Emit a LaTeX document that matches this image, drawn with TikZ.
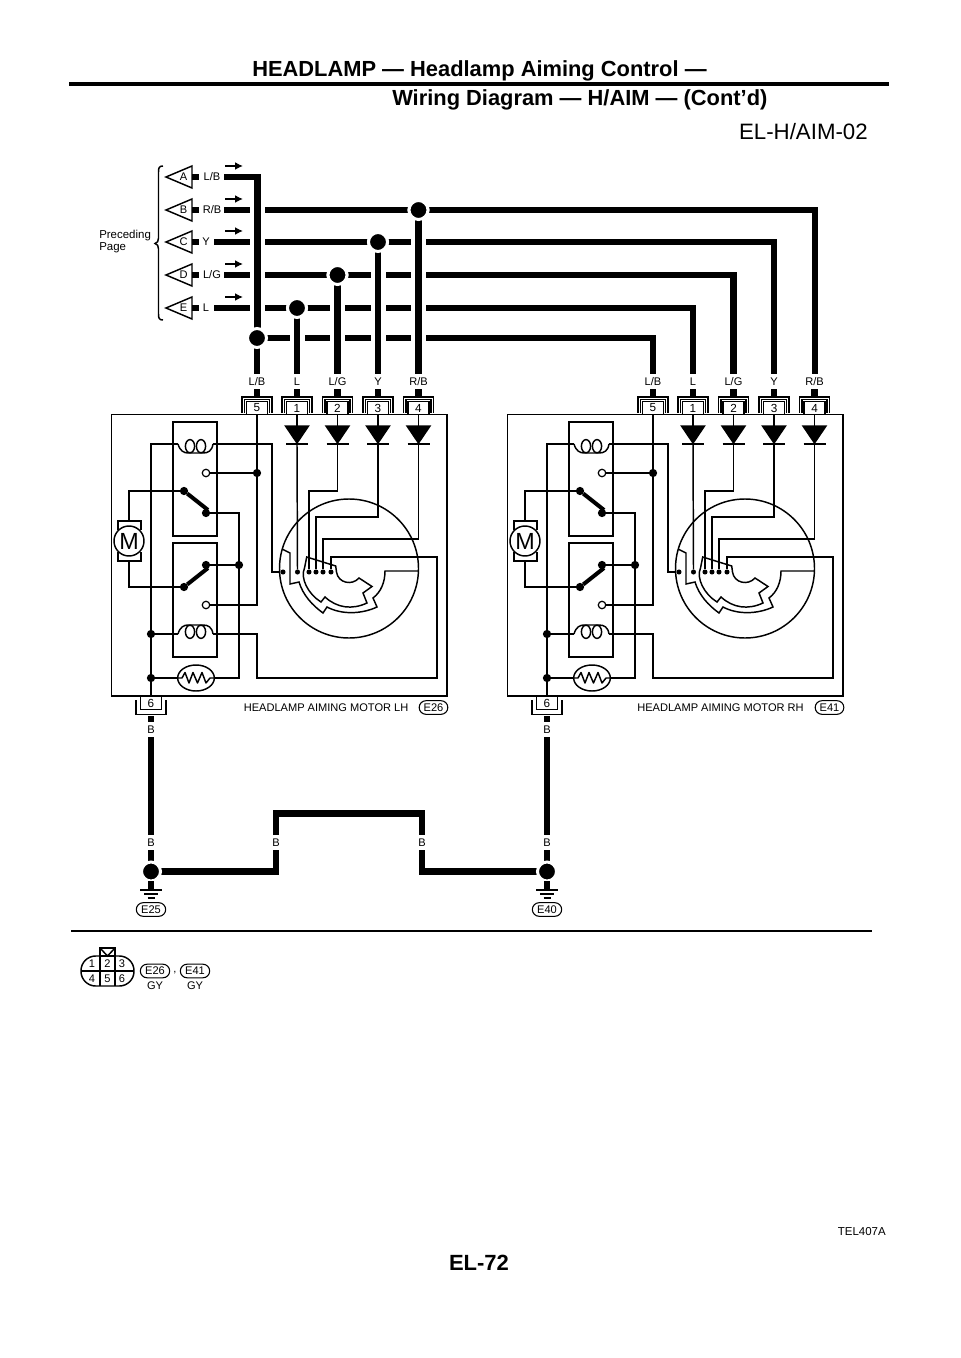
\documentclass[tikz,border=0pt]{standalone}
\usepackage{fontspec}
\setmainfont{Liberation Sans}
\usetikzlibrary{arrows.meta,shapes.misc,shapes.geometric}
\tikzset{
  thinw/.style={line width=1.1pt,line join=miter},
  hair/.style={line width=0.8pt},
  heavy/.style={line width=5pt,line join=miter},
  halo/.style={line width=11.25pt,white},
  bigdot/.style={circle,fill=black,draw=white,line width=2.25pt,minimum size=14.25pt,inner sep=0pt,outer sep=0pt},
  jdot/.style={circle,fill=black,minimum size=6.2pt,inner sep=0pt,outer sep=0pt},
  sdot/.style={circle,fill=black,minimum size=3.8pt,inner sep=0pt,outer sep=0pt},
  odot/.style={circle,draw,fill=white,line width=0.9pt,minimum size=5.6pt,inner sep=0pt,outer sep=0pt},
  lbl/.style={inner sep=0pt,font=\fontsize{8.3}{9}\selectfont},
  pinbox/.style={draw,line width=0.9pt,fill=white,minimum width=15.75pt,minimum height=9.6pt,inner sep=0pt,outer sep=0pt,font=\fontsize{8.8}{9}\selectfont},
  pill/.style={rounded rectangle,draw,line width=0.8pt,minimum width=22pt,minimum height=10.2pt,inner sep=0pt,font=\fontsize{8.3}{9}\selectfont}
}
\newcommand{\RowTag}[4]{% letter, y, label, label x
  \draw[thinw] (166,#2) -- (192,#2-11) -- (192,#2+11) -- cycle;
  \node[lbl] (tag#1) at (183.5,#2) {#1};
  \fill (192,#2-3) rectangle (199,#2+3);
  \node[lbl] (rowlab#1) at (#4,#2) {#3};
  \coordinate (arrL#1) at (225,#2-11);
  \coordinate (arrR#1) at (243,#2-11);
  \draw[line width=1.4pt,-{Latex[length=6pt,width=6pt]}] (arrL#1) -- (arrR#1);
}
\newcommand{\PinTop}[4]{% name, x, number, label
  \node[lbl] (lab#1) at (#2,382) {#4};
  \fill (#2-3.3,389) rectangle (#2+3.3,397);
  \draw[hair] (#2-15,413) -- (#2-15,397) -- (#2+15,397) -- (#2+15,413);
  \draw[hair] (#2-12.5,413) -- (#2-12.5,399.5) -- (#2+12.5,399.5) -- (#2+12.5,413);
  \node[pinbox] (pin#1) at (#2,408) {#3};
}
\newcommand{\Diode}[2]{% name, x
  \draw[thinw,fill=black] (#2-11.5,426) -- (#2+11.5,426) -- (#2,443) -- cycle;
  \draw[thinw] (#2-11,444) -- (#2+11,444);
  \coordinate (di#1) at (#2,444);
}
\newcommand{\CoilDown}[1]{% y of wire, arc below
  \draw[thinw] (178,#1) .. controls (180,#1+7) and (184,#1+9) .. (188,#1+9) -- (203,#1+9) .. controls (208,#1+9) and (212,#1+7) .. (213,#1);
  \foreach \cx in {190,201} \draw[thinw] (\cx,#1+2.2) ellipse [x radius=4.6,y radius=6.6];
}
\newcommand{\CoilUp}[1]{% y of wire, arc above
  \draw[thinw] (178,#1) .. controls (180,#1-7) and (184,#1-9) .. (188,#1-9) -- (203,#1-9) .. controls (208,#1-9) and (212,#1-7) .. (213,#1);
  \foreach \cx in {190,201} \draw[thinw] (\cx,#1-2.2) ellipse [x radius=4.6,y radius=6.6];
}
\newcommand{\MotorUnit}[5]{% shift, prefix, name x, name text, pill text
  \begin{scope}[xshift=#1*0.75pt,name prefix=#2-]
    \draw[thinw] (111.5,414.5) rectangle (447,696);
    \PinTop{5}{257}{5}{L/B}
    \PinTop{1}{297}{1}{L}
    \PinTop{2}{337.5}{2}{L/G}
    \PinTop{3}{378}{3}{Y}
    \PinTop{4}{418.5}{4}{R/B}
    \Diode{1}{297}\Diode{2}{337.5}\Diode{3}{378}\Diode{4}{418.5}
    \draw[thinw] (pin1.south) -- (297,426);
    \draw[thinw] (pin2.south) -- (337.5,426);
    \draw[thinw] (pin3.south) -- (378,426);
    \draw[thinw] (pin4.south) -- (418.5,426);
    % relay boxes
    \draw[thinw] (173,422) rectangle (217,536);
    \draw[thinw] (173,543) rectangle (217,657);
    % junctions
    \node[jdot] (jNO) at (257,473) {};
    \node[jdot] (jCom) at (239,565) {};
    \node[jdot] (jCoil) at (151,634) {};
    \node[jdot] (jTh) at (151,678) {};
    \node[jdot] (armA) at (184,491) {};
    \node[jdot] (armB) at (206,513) {};
    \node[jdot] (armC) at (184,587) {};
    \node[jdot] (armD) at (206,565) {};
    \node[odot] (no1) at (206,473) {};
    \node[odot] (no2) at (206,605) {};
    \node[pinbox] (pin6) at (151,703) {6};
    \draw[hair] (136,700) -- (136,714.5) -- (166,714.5) -- (166,700);
    % coils
    \CoilDown{444}
    \CoilUp{634}
    % wires
    \node[sdot] (c0) at (283,572) {};
    \node[sdot] (c1) at (297.5,572) {};
    \node[sdot] (c2) at (309,572) {};
    \node[sdot] (c3) at (316,572) {};
    \node[sdot] (c4) at (323,572) {};
    \node[sdot] (c5) at (331,572) {};
    \draw[thinw] (178,444) -- (151,444) -- (pin6.north);
    \draw[thinw] (213,444) -- (272,444) -- (272,572) -- (c0);
    \draw[thinw] (pin5.south) -- (jNO) -- (257,605) -- (no2);
    \draw[thinw] (no1) -- (jNO);
    \draw[thinw] (armB) -- (239,513) -- (jCom) -- (239,678) -- (214,678);
    \draw[thinw] (armD) -- (jCom);
    \draw[line width=3pt] (armA) -- (208,510);
    \draw[line width=3pt] (armC) -- (208,568);
    \draw[thinw] (jCoil) -- (178,634);
    \draw[thinw] (213,634) -- (257,634) -- (257,678) -- (437,678) -- (437,557) -- (331,557) -- (c5);
    \draw[thinw] (jTh) -- (178,678);
    % motor
    \node[circle,draw,line width=1.1pt,fill=white,minimum size=22.5pt,inner sep=0pt] (mot) at (129,541) {\fontsize{17.5}{18}\selectfont M};
    \draw[thinw] (118,530) -- (118,521) -- (141,521) -- (141,530);
    \draw[thinw] (118,552) -- (118,561) -- (141,561) -- (141,552);
    \draw[thinw] (129,521) -- (129,491) -- (armA);
    \draw[thinw] (129,561) -- (129,587) -- (armC);
    % thermistor
    \node[ellipse,draw,line width=1.1pt,minimum width=27.5pt,minimum height=19.5pt,inner sep=0pt] (therm) at (196,678) {};
    \draw[thinw,line join=round] (178,678) -- (182,678) -- (185,672.5) -- (189,683) -- (193,672.5) -- (197.5,683) -- (202,672.5) -- (206,683) -- (210,678) -- (214,678);
    % diode outputs
    \draw[thinw] (di1) -- (c1);
    \draw[thinw] (di2) -- (337.5,491) -- (309,491) -- (c2);
    \draw[thinw] (di3) -- (378,517) -- (316,517) -- (c3);
    \draw[thinw] (di4) -- (418.5,539) -- (323,539) -- (c4);
    % commutator
    \draw[thinw] (349,568.5) circle [radius=69.5];
    \draw[thinw] (282,549) -- (290,553) -- (290,584) -- (299,582) .. controls (303,595) and (312,605) .. (323,613) -- (327,607) .. controls (342,615) and (362,614) .. (377,607) -- (373,598) .. controls (381,592) and (385,582) .. (385,571) -- (418,571);
    \draw[thinw] (306.7,557) -- (335.7,566) -- (336.5,572) .. controls (338,583) and (352,586) .. (359,578) -- (372,586.5) -- (363,593) -- (367,603) .. controls (352,610) and (337,608) .. (325,597) -- (321,602) .. controls (308,594) and (300,578) .. (304.5,568) -- cycle;
    % name
    \node[lbl,anchor=west] (uname) at (#3,707.5) {#4};
    \node[pill,minimum width=21.5pt] (upill) at (433.5,707.5) {#5};
    % lead down
    \fill (147.7,716) rectangle (154.3,722);
    \node[lbl] (labB) at (151,730) {B};
  \end{scope}
}
\begin{document}
\begin{tikzpicture}[x=0.75pt,y=-0.75pt]
\useasboundingbox (0,0) rectangle (960,1358);
\fill[white] (0,0) rectangle (960,1358);
% headers
\node[anchor=base west,inner sep=0pt,font=\bfseries\fontsize{16.4}{18}\selectfont] (title1) at (252,77) {HEADLAMP — Headlamp Aiming Control —};
\node[anchor=base west,inner sep=0pt,font=\bfseries\fontsize{16.4}{18}\selectfont] (title2) at (392,106) {Wiring Diagram — H/AIM — (Cont’d)};
\coordinate (ruleL) at (69,84); \coordinate (ruleR) at (889,84);
\draw[line width=2.6pt] (ruleL) -- (ruleR);
\node[anchor=base east,inner sep=0pt,font=\fontsize{16.7}{20}\selectfont] (code) at (868,140) {EL-H/AIM-02};
% row ends
\foreach \n/\y/\sx in {B/210/224,C/242/214,D/275/224,E/308/214} \coordinate (st\n) at (\sx,\y);
\coordinate (stA) at (224,177);
% thick horizontals
\draw[heavy] (stB) -- (815,210) -- (815,374);
\draw[heavy] (stC) -- (774,242) -- (774,374);
\draw[heavy] (stD) -- (733.5,275) -- (733.5,374);
\draw[heavy] (stE) -- (693,308) -- (693,374);
\node[bigdot] (jF) at (257,338) {};
\draw[heavy] (jF) -- (653,338) -- (653,374);
% thick verticals (with crossing gaps)
\node[bigdot] (jE) at (297,308) {};
\node[bigdot] (jD) at (337.5,275) {};
\node[bigdot] (jC) at (378,242) {};
\node[bigdot] (jB) at (418.5,210) {};
\coordinate (dnF) at (257,374); \coordinate (dnE) at (297,374); \coordinate (dnD) at (337.5,374); \coordinate (dnC) at (378,374); \coordinate (dnB) at (418.5,374);
\coordinate (haloA) at (257,192);
\draw[halo] (haloA) -- (257,330);
\draw[heavy] (stA) -- (257.5,177) -- (257.5,330);
\draw[heavy] (257,347) -- (dnF);
\foreach \n in {E,D,C,B} {
  \draw[halo] (j\n) -- (dn\n);
  \draw[heavy] (j\n) -- (dn\n);
}
\foreach \n/\x/\y in {F/257/338,E/297/308,D/337.5/275,C/378/242,B/418.5/210} \node[bigdot] at (\x,\y) {};
% preceding page
\RowTag{A}{177}{L/B}{212}
\RowTag{B}{210}{R/B}{212}
\RowTag{C}{242}{Y}{206}
\RowTag{D}{275}{L/G}{212}
\RowTag{E}{308}{L}{206}
\draw[thinw] (163,166) .. controls (159,166) and (158.5,168) .. (158.5,172) -- (158.5,238) .. controls (158.5,241) and (157.5,243) .. (155,243.5) .. controls (157.5,244) and (158.5,246) .. (158.5,249) -- (158.5,314) .. controls (158.5,318) and (159,320) .. (163,320);
\node[anchor=west,inner sep=0pt,font=\fontsize{8.6}{9}\selectfont] (prec) at (99,236) {Preceding};
\node[anchor=west,inner sep=0pt,font=\fontsize{8.6}{9}\selectfont] (page) at (99,248) {Page};
% motors
\MotorUnit{0}{L}{243.5}{HEADLAMP AIMING MOTOR LH}{E26}
\MotorUnit{396}{R}{241}{HEADLAMP AIMING MOTOR RH}{E41}
% ground wiring
\node[lbl] (bA) at (151,843) {B};
\node[lbl] (bB) at (276,843) {B};
\node[lbl] (bC) at (422,843) {B};
\node[lbl] (bD) at (547,843) {B};
\node[bigdot] (gL) at (151,871.5) {};
\node[bigdot] (gR) at (547,871.5) {};
\draw[heavy] (151,737) -- (151,835);
\draw[heavy] (151,850) -- (gL);
\draw[heavy] (547,737) -- (547,835);
\draw[heavy] (547,850) -- (gR);
\draw[heavy] (gL) -- (276,871.5) -- (276,850);
\draw[heavy] (276,835) -- (276,813.5) -- (422,813.5) -- (422,835);
\draw[heavy] (422,850) -- (422,871.5) -- (gR);
\foreach \n in {gL,gR} \node[bigdot] at (\n) {};
\foreach \g/\x/\t in {gL/151/E25,gR/547/E40} {
  \draw[line width=4pt] (\g) -- (\x,889);
  \draw[hair] (\x-11,890) -- (\x+11,890);
  \draw[hair] (\x-7,894) -- (\x+7,894);
  \draw[hair] (\x-3.5,898) -- (\x+3.5,898);
  \node[pill] (p\t) at (\x,909.5) {\t};
}
% lower rule
\coordinate (rule2L) at (71,930.5); \coordinate (rule2R) at (872,930.5);
\draw[line width=1.5pt] (rule2L) -- (rule2R);
% connector face
\draw[thinw,rounded corners=11pt] (81,956) rectangle (134,986);
\draw[thinw] (100,948) rectangle (115,956);
\draw[thinw] (100,948) -- (107.5,956) -- (115,948);
\draw[thinw] (100,956) -- (100,986);
\draw[thinw] (115,956) -- (115,986);
\draw[thinw] (81,971) -- (134,971);
\foreach \n/\x/\y in {1/92/964,2/107.5/964,3/122/964,4/92/979,5/107.5/979,6/122/979}
  \node[lbl] (cell\n) at (\x,\y) {\n};
\node[pill] (legA) at (155,971) {E26};
\node[pill] (legB) at (195,971) {E41};
\node[lbl] (legc) at (175,973) {,};
\node[lbl] (gyA) at (155,985.5) {GY};
\node[lbl] (gyB) at (195,985.5) {GY};
% footer
\node[anchor=east,inner sep=0pt,font=\fontsize{8.6}{9}\selectfont] (ref) at (886,1232) {TEL407A};
\node[inner sep=0pt,font=\bfseries\fontsize{16.5}{18}\selectfont] (pageno) at (479,1262.5) {EL-72};
\end{tikzpicture}
\end{document}
